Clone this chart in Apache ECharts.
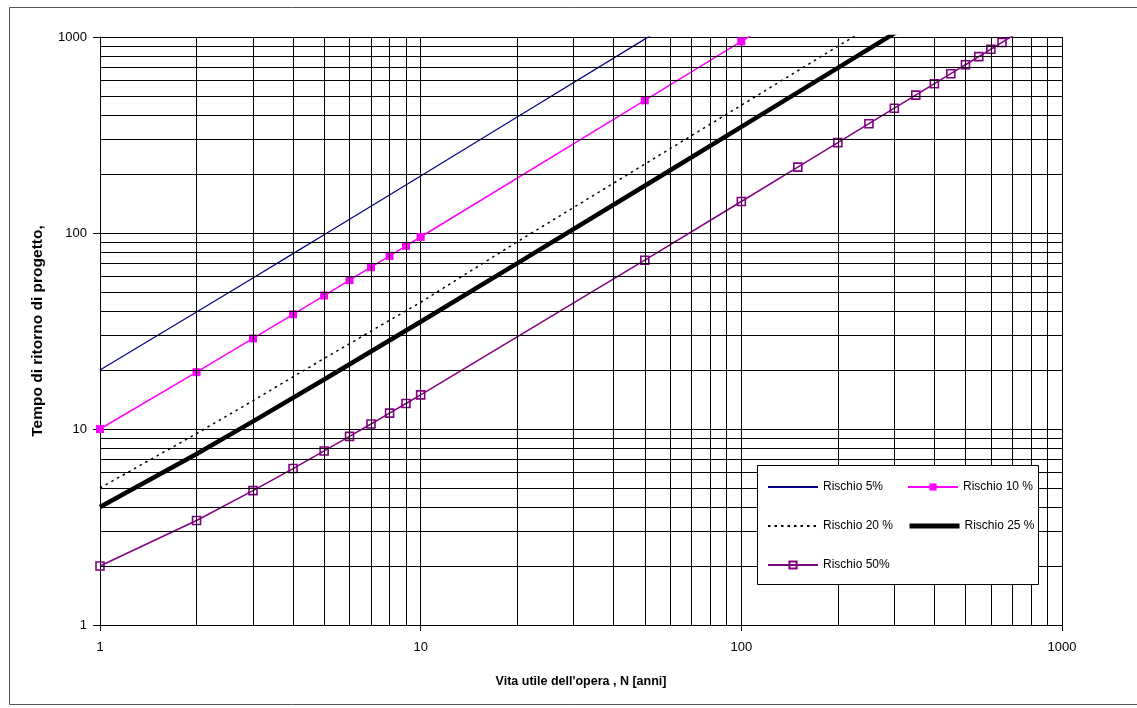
<!DOCTYPE html>
<html>
<head>
<meta charset="utf-8">
<script src="https://cdn.jsdelivr.net/npm/echarts@6/dist/echarts.min.js"></script>
<style>
html,body{margin:0;padding:0;background:#fff;}
#chart{width:1137px;height:708px;}
</style>
</head>
<body>
<div id="chart"></div>
<script>
// ---- data (N = service life [years], T = design return period) ----
const seriesNames = ['Rischio 5%', 'Rischio 10 %', 'Rischio 20 %', 'Rischio 25 %', 'Rischio 50%'];

const n5  = [1, 2, 3, 4, 5, 10, 20, 50, 100];
const t5  = [20, 39.49, 58.99, 78.49, 97.98, 195.46, 390.4, 975.3, 1950.1];

const n10 = [1, 2, 3, 4, 5, 6, 7, 8, 9, 10, 50, 100, 150];
const t10 = [10, 19.49, 28.98, 38.47, 47.96, 57.45, 66.94, 76.43, 85.92, 95.41, 475.1, 949.6, 1424.2];

const n20 = [1, 2, 3, 5, 10, 20, 50, 100, 200, 300];
const t20 = [5, 9.47, 13.95, 22.91, 44.31, 90.13, 224.57, 448.64, 896.8, 1344.9];

const n25 = [1, 2, 3, 5, 10, 20, 50, 100, 200, 300, 400];
const t25 = [4, 7.46, 10.94, 17.88, 35.26, 70.02, 174.3, 348.1, 695.7, 1043.3, 1390.9];

const n50 = [1, 2, 3, 4, 5, 6, 7, 8, 9, 10, 50, 100, 150, 200, 250, 300, 350, 400, 450, 500, 550, 600, 650, 700, 750];
const t50 = [2, 3.414, 4.847, 6.285, 7.725, 9.166, 10.607, 12.049, 13.491, 14.933, 72.63, 144.77, 216.9, 289.04, 361.2, 433.3, 505.4, 577.6, 649.7, 721.8, 794.0, 866.1, 938.2, 1010.4, 1082.5];

// axis ticks
const xMajorTicks = [1, 10, 100, 1000];
const yMajorTicks = [1, 10, 100, 1000];
const xMinorGrid = [2, 3, 4, 5, 6, 7, 8, 9, 20, 30, 40, 50, 60, 70, 80, 90, 200, 300, 400, 500, 600, 700, 800, 900];
const yMinorGrid = [2, 3, 4, 5, 6, 7, 8, 9, 20, 30, 40, 50, 60, 70, 80, 90, 200, 300, 400, 500, 600, 700, 800, 900];

const xTitle = "Vita utile dell'opera , N [anni]";
const yTitle = "Tempo di ritorno di progetto,";

// ---- font detection ----
function hasFont(f) {
  const c = document.createElement('canvas').getContext('2d');
  const s = 'abcdefghijklmnopqrstuvwxyz0123456789';
  c.font = '40px monospace';
  const a = c.measureText(s).width;
  c.font = '40px "' + f + '", monospace';
  return c.measureText(s).width !== a;
}
const narrow = hasFont('Liberation Sans Narrow');
const NF = narrow ? "'Liberation Sans Narrow', 'Liberation Sans', Arial, sans-serif" : "'Liberation Sans', Arial, sans-serif";
const WF = "'Liberation Sans', Arial, sans-serif";
const labelSize = narrow ? 15 : 13;
const legendSize = narrow ? 14.5 : 12;
const xTitleSize = narrow ? 15 : 12.5;

const pair = (xs, ys) => xs.map((x, i) => [x, ys[i]]);
const fmt = v => String(Math.round(v));

const chart = echarts.init(document.getElementById('chart'), null, {renderer: 'canvas'});

const legendCommon = {
  itemWidth: 50, itemHeight: 9, padding: 0, z: 100,
  textStyle: {fontFamily: NF, fontSize: legendSize, color: '#000'},
  selectedMode: false
};
const noSym = {itemStyle: {opacity: 0}};

const option = {
  animation: false,
  backgroundColor: '#fff',
  grid: {left: 100, right: 75, top: 37, bottom: 83, containLabel: false},
  xAxis: {
    type: 'log', logBase: 10, min: xMajorTicks[0], max: xMajorTicks[xMajorTicks.length - 1],
    name: xTitle, nameLocation: 'middle', nameGap: 50,
    nameTextStyle: {fontFamily: NF, fontSize: xTitleSize, fontWeight: 'bold', color: '#000'},
    axisLine: {show: true, lineStyle: {color: '#000', width: 1}},
    axisTick: {show: true, inside: false, length: 6, lineStyle: {color: '#000'}},
    axisLabel: {fontFamily: NF, fontSize: labelSize, color: '#000', margin: 16, formatter: fmt},
    splitLine: {show: true, lineStyle: {color: '#000', width: 1}}
  },
  yAxis: {
    type: 'log', logBase: 10, min: yMajorTicks[0], max: yMajorTicks[yMajorTicks.length - 1],
    name: yTitle, nameLocation: 'middle', nameGap: 54, nameRotate: 90,
    nameTextStyle: {fontFamily: WF, fontSize: 15.5, fontWeight: 'bold', color: '#000'},
    axisLine: {show: true, lineStyle: {color: '#000', width: 1}},
    axisTick: {show: true, inside: false, length: 7, lineStyle: {color: '#000'}},
    axisLabel: {fontFamily: NF, fontSize: labelSize, color: '#000', margin: 13, formatter: fmt},
    splitLine: {show: true, lineStyle: {color: '#000', width: 1}}
  },
  legend: [
    Object.assign({}, legendCommon, noSym, {data: [seriesNames[0]], left: 767, top: 481}),
    Object.assign({}, legendCommon, {data: [seriesNames[1]], left: 907, top: 481}),
    Object.assign({}, legendCommon, noSym, {data: [seriesNames[2]], left: 767, top: 520}),
    Object.assign({}, legendCommon, noSym, {data: [seriesNames[3]], left: 907, top: 520, lineStyle: {width: 5}}),
    Object.assign({}, legendCommon, {data: [seriesNames[4]], left: 767, top: 559})
  ],
  graphic: [
    {type: 'rect', z: -10, silent: true, shape: {x: 9.5, y: 7.5, width: 1140, height: 697},
     style: {fill: 'none', stroke: '#555', lineWidth: 1}},
    {type: 'rect', z: 50, silent: true, shape: {x: 757.5, y: 465.5, width: 281, height: 119},
     style: {fill: '#fff', stroke: '#000', lineWidth: 1}}
  ],
  series: [
    {
      name: 'minor-grid', type: 'line', data: [[1, 1]], symbol: 'none', silent: true, z: 1,
      lineStyle: {opacity: 0},
      markLine: {
        silent: true, symbol: ['none', 'none'], label: {show: false}, animation: false,
        lineStyle: {color: '#000', width: 1, type: 'solid'},
        emphasis: {disabled: true},
        data: xMinorGrid.map(v => ({xAxis: v})).concat(yMinorGrid.map(v => ({yAxis: v})))
      }
    },
    {
      name: seriesNames[0], type: 'line', data: pair(n5, t5), symbol: 'none', z: 3,
      lineStyle: {color: '#000080', width: 1.2}, itemStyle: {color: '#000080'}
    },
    {
      name: seriesNames[1], type: 'line', data: pair(n10, t10), symbol: 'rect', symbolSize: 8, z: 3,
      showSymbol: true,
      lineStyle: {color: '#ff00ff', width: 1.5}, itemStyle: {color: '#ff00ff'}
    },
    {
      name: seriesNames[2], type: 'line', data: pair(n20, t20), symbol: 'none', z: 3,
      lineStyle: {color: '#000', width: 1.5, type: [2.5, 4]}, itemStyle: {color: '#000'}
    },
    {
      name: seriesNames[3], type: 'line', data: pair(n25, t25), symbol: 'none', z: 3,
      lineStyle: {color: '#000', width: 4.5}, itemStyle: {color: '#000'}
    },
    {
      name: seriesNames[4], type: 'line', data: pair(n50, t50), symbol: 'rect', symbolSize: 8, z: 3,
      showSymbol: true,
      lineStyle: {color: '#800080', width: 1.5},
      itemStyle: {color: 'rgba(255,255,255,0)', borderColor: '#800080', borderWidth: 1.6}
    }
  ]
};
chart.setOption(option);
</script>
</body>
</html>
